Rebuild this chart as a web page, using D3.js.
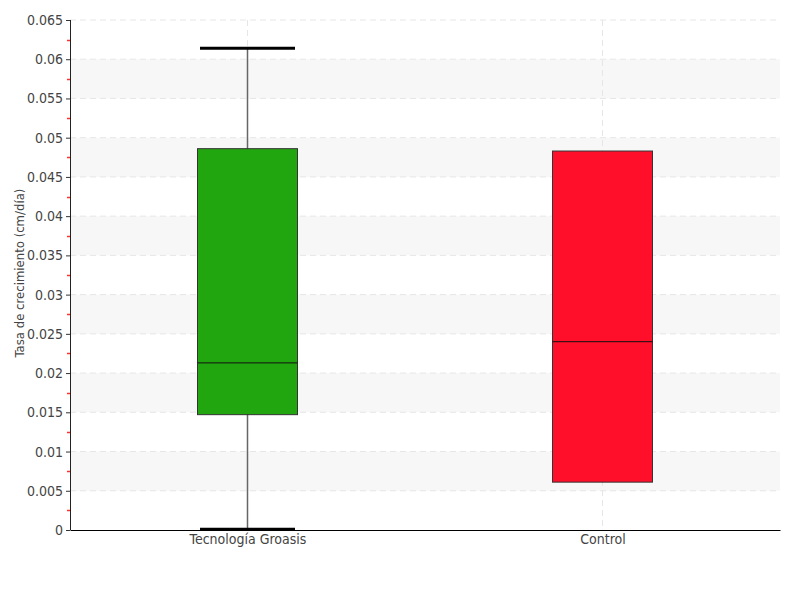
<!DOCTYPE html>
<html>
<head>
<meta charset="utf-8">
<script src="https://cdn.jsdelivr.net/npm/d3@7"></script>
<style>
  body { margin: 0; background: #fff; }
  text { font-family: "Liberation Sans Narrow", "DejaVu Sans Condensed", sans-serif; fill: #444; }
</style>
</head>
<body>
<div id="chart-area"></div>
<script>
// data
var categories = ["Tecnología Groasis", "Control"];
var minVals = [0.0001, 0.0061];
var q1Vals = [0.0147, 0.0061];
var medianVals = [0.0213, 0.0240];
var q3Vals = [0.0486, 0.0483];
var maxVals = [0.0614, 0.0483];
var boxColors = ["#22a60f", "#ff0f2a"];
var yTicks = [0, 0.005, 0.01, 0.015, 0.02, 0.025, 0.03, 0.035, 0.04, 0.045, 0.05, 0.055, 0.06, 0.065];

var margin = { left:70, right:20, top:20, bottom:70 };
var width = 800 - margin.left - margin.right,
    height = 600 - margin.top - margin.bottom;

var svg = d3.select("#chart-area")
    .append("svg")
        .attr("width", 800)
        .attr("height", 600);

var g = svg.append("g")
    .attr("transform", "translate(" + margin.left + ", " + margin.top + ")");

var y = d3.scaleLinear()
    .domain([0, 0.065])
    .range([height, 0]);

var x = d3.scalePoint()
    .domain(categories)
    .range([0, width])
    .padding(0.5);

// alternate bands
var bandStarts = [0.005, 0.015, 0.025, 0.035, 0.045, 0.055];
g.selectAll(".band")
    .data(bandStarts)
    .enter().append("rect")
        .attr("x", 0)
        .attr("width", width)
        .attr("y", function(d) { return y(d + 0.005); })
        .attr("height", function(d) { return y(d) - y(d + 0.005); })
        .attr("fill", "#f7f7f7");

// horizontal dashed grid
g.selectAll(".hgrid")
    .data(yTicks.slice(1))
    .enter().append("line")
        .attr("x1", 0)
        .attr("x2", width)
        .attr("y1", function(d) { return y(d); })
        .attr("y2", function(d) { return y(d); })
        .attr("stroke", "#e6e6e6")
        .attr("stroke-dasharray", "6,4");

// vertical dashed grid
g.selectAll(".vgrid")
    .data(categories)
    .enter().append("line")
        .attr("x1", function(d) { return x(d); })
        .attr("x2", function(d) { return x(d); })
        .attr("y1", 0)
        .attr("y2", height)
        .attr("stroke", "#e6e6e6")
        .attr("stroke-dasharray", "6,4");

var boxW = 100, capW = 95;

var boxes = g.selectAll(".box")
    .data(categories)
    .enter().append("g")
        .attr("class", "box")
        .attr("transform", function(d) { return "translate(" + x(d) + ",0)"; });

boxes.append("line")
    .attr("y1", function(d, i) { return y(maxVals[i]); })
    .attr("y2", function(d, i) { return y(minVals[i]); })
    .attr("stroke", "#666")
    .attr("stroke-width", 1.5);

boxes.append("rect")
    .attr("x", -boxW / 2)
    .attr("width", boxW)
    .attr("y", function(d, i) { return y(q3Vals[i]); })
    .attr("height", function(d, i) { return y(q1Vals[i]) - y(q3Vals[i]); })
    .attr("fill", function(d, i) { return boxColors[i]; })
    .attr("stroke", "#333")
    .attr("stroke-width", 1);

boxes.append("line")
    .attr("x1", -boxW / 2)
    .attr("x2", boxW / 2)
    .attr("y1", function(d, i) { return y(medianVals[i]); })
    .attr("y2", function(d, i) { return y(medianVals[i]); })
    .attr("stroke", "#111")
    .attr("stroke-width", 1);

// caps only where whisker extends beyond box
boxes.filter(function(d, i) { return maxVals[i] > q3Vals[i]; })
    .append("line")
    .attr("x1", -capW / 2)
    .attr("x2", capW / 2)
    .attr("y1", function(d) { return y(maxVals[categories.indexOf(d)]); })
    .attr("y2", function(d) { return y(maxVals[categories.indexOf(d)]); })
    .attr("stroke", "#000")
    .attr("stroke-width", 3);

boxes.filter(function(d, i) { return minVals[i] < q1Vals[i]; })
    .append("line")
    .attr("x1", -capW / 2)
    .attr("x2", capW / 2)
    .attr("y1", function(d) { return y(minVals[categories.indexOf(d)]); })
    .attr("y2", function(d) { return y(minVals[categories.indexOf(d)]); })
    .attr("stroke", "#000")
    .attr("stroke-width", 3);

// Y Axis
var yAxisCall = d3.axisLeft(y)
    .tickValues(yTicks)
    .tickSize(4)
    .tickPadding(3)
    .tickFormat(function(d) { return +d.toFixed(4); });
var yAx = g.append("g")
    .attr("class", "y axis")
    .call(yAxisCall);
yAx.select(".domain").attr("stroke", "#222").attr("d", "M0.5,0V" + height);
yAx.selectAll(".tick line").attr("stroke", "#333");
yAx.selectAll("text").attr("font-size", "14px").style("fill", "#444");

// minor ticks (red)
var minor = yTicks.slice(0, -1).map(function(d) { return d + 0.0025; });
g.selectAll(".minor")
    .data(minor)
    .enter().append("line")
        .attr("x1", -3)
        .attr("x2", 0)
        .attr("y1", function(d) { return Math.round(y(d)) + 0.5; })
        .attr("y2", function(d) { return Math.round(y(d)) + 0.5; })
        .attr("stroke", "#ff3030")
        .attr("stroke-width", 1.5);

// X Axis
var xAxisCall = d3.axisBottom(x).tickSize(0).tickPadding(4);
var xAx = g.append("g")
    .attr("class", "x axis")
    .attr("transform", "translate(0," + height + ")")
    .call(xAxisCall);
xAx.select(".domain").attr("stroke", "#000");
xAx.selectAll("text").attr("font-size", "14px").style("fill", "#444");

// Y label
g.append("text")
    .attr("transform", "rotate(-90)")
    .attr("x", -height / 2 + 2)
    .attr("y", -46)
    .attr("font-size", "13px")
    .attr("text-anchor", "middle")
    .text("Tasa de crecimiento (cm/día)");
</script>
</body>
</html>
